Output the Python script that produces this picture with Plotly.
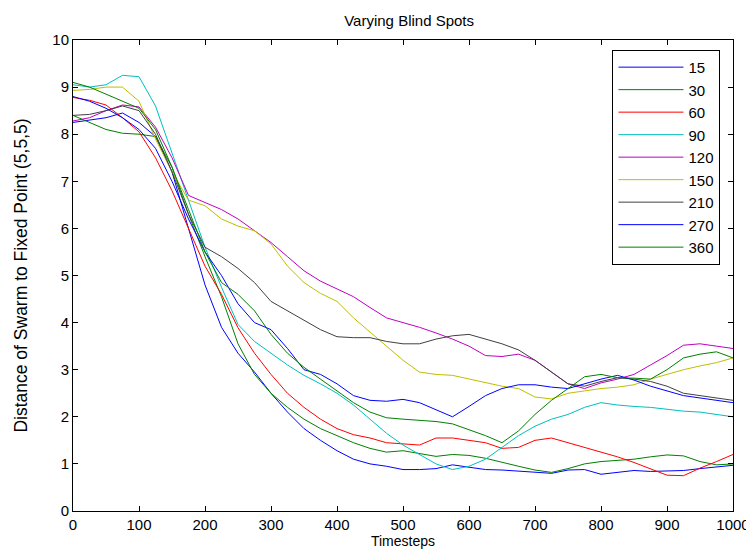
import plotly.graph_objects as go

timesteps = [0, 25, 50, 75, 100, 125, 150, 175, 200, 225, 250, 275, 300, 325, 350, 375, 400,
             425, 450, 475, 500, 525, 550, 575, 600, 625, 650, 675, 700, 725, 750, 775, 800,
             825, 850, 875, 900, 925, 950, 975, 1000]

s15 = [8.25, 8.3, 8.35, 8.45, 8.25, 7.95, 7.2, 6.0, 4.8, 3.9, 3.35, 2.95, 2.5, 2.1, 1.75, 1.5, 1.28,
       1.1, 1.0, 0.95, 0.88, 0.88, 0.9, 0.98, 0.93, 0.88, 0.87, 0.85, 0.82, 0.8, 0.87, 0.88, 0.78,
       0.82, 0.86, 0.84, 0.85, 0.86, 0.9, 0.93, 0.97]
s30 = [8.4, 8.25, 8.1, 8.02, 8.0, 7.95, 7.3, 6.3, 5.4, 4.55, 3.55, 2.9, 2.5, 2.2, 1.95, 1.75, 1.6,
       1.45, 1.33, 1.25, 1.28, 1.22, 1.16, 1.2, 1.18, 1.12, 1.03, 0.95, 0.87, 0.82, 0.9, 1.0, 1.05,
       1.08, 1.1, 1.15, 1.19, 1.17, 1.05, 0.98, 1.0]
s60 = [8.78, 8.72, 8.62, 8.35, 8.05, 7.5, 6.8, 6.0, 5.2, 4.6, 3.89, 3.35, 2.9, 2.5, 2.2, 1.95, 1.75,
       1.62, 1.55, 1.45, 1.42, 1.4, 1.55, 1.55, 1.5, 1.45, 1.33, 1.35, 1.5, 1.55, 1.45, 1.35, 1.25,
       1.15, 1.03, 0.9, 0.76, 0.75, 0.91, 1.05, 1.2]
s90 = [9.05, 9.0, 9.05, 9.25, 9.22, 8.6, 7.6, 6.6, 5.6, 4.75, 3.96, 3.6, 3.35, 3.1, 2.88, 2.7, 2.5,
       2.25, 1.95, 1.65, 1.4, 1.2, 1.0, 0.88, 0.95, 1.1, 1.35, 1.6, 1.8, 1.95, 2.05, 2.2, 2.3,
       2.25, 2.22, 2.2, 2.16, 2.12, 2.1, 2.05, 2.0]
s120 = [8.28, 8.35, 8.5, 8.62, 8.58, 8.15, 7.5, 6.7, 6.55, 6.4, 6.2, 5.95, 5.7, 5.4, 5.1, 4.88, 4.72,
        4.55, 4.32, 4.1, 4.0, 3.9, 3.78, 3.65, 3.5, 3.3, 3.28, 3.33, 3.2, 2.95, 2.7, 2.6, 2.72,
        2.8, 2.9, 3.1, 3.3, 3.52, 3.55, 3.5, 3.45]
s150 = [8.93, 8.95, 9.0, 9.0, 8.7, 7.9, 7.2, 6.6, 6.48, 6.2, 6.05, 5.95, 5.67, 5.2, 4.85, 4.62, 4.45,
        4.1, 3.8, 3.5, 3.2, 2.95, 2.9, 2.88, 2.8, 2.72, 2.65, 2.6, 2.42, 2.38, 2.5, 2.55, 2.6,
        2.63, 2.68, 2.8, 2.9, 3.0, 3.08, 3.15, 3.25]
s210 = [8.4, 8.42, 8.5, 8.6, 8.5, 8.0, 7.2, 6.3, 5.6, 5.4, 5.15, 4.85, 4.45, 4.25, 4.05, 3.85, 3.7,
        3.68, 3.68, 3.6, 3.55, 3.55, 3.65, 3.72, 3.75, 3.65, 3.55, 3.42, 3.2, 2.95, 2.7, 2.65, 2.75,
        2.83, 2.8, 2.75, 2.65, 2.5, 2.45, 2.4, 2.35]
s270 = [8.8, 8.7, 8.55, 8.35, 8.1, 7.7, 7.0, 6.2, 5.5, 5.0, 4.4, 4.0, 3.85, 3.45, 3.0, 2.9, 2.7,
        2.45, 2.35, 2.33, 2.37, 2.3, 2.15, 2.0, 2.22, 2.45, 2.6, 2.68, 2.68, 2.63, 2.6, 2.7, 2.8,
        2.88, 2.78, 2.65, 2.55, 2.45, 2.4, 2.35, 2.3]
s360 = [9.1, 9.0, 8.85, 8.7, 8.55, 8.1, 7.3, 6.4, 5.5, 4.85, 4.6, 4.25, 3.75, 3.35, 3.05, 2.8, 2.55,
        2.3, 2.1, 1.98, 1.95, 1.93, 1.9, 1.85, 1.72, 1.6, 1.45, 1.7, 2.05, 2.35, 2.6, 2.85, 2.9,
        2.83, 2.82, 2.8, 3.0, 3.25, 3.33, 3.38, 3.25]

series_names = ["15", "30", "60", "90", "120", "150", "210", "270", "360"]
series_values = [s15, s30, s60, s90, s120, s150, s210, s270, s360]
series_colors = ["#0000ff", "#008000", "#ff0000", "#00bfbf", "#bf00bf", "#bfbf00", "#404040",
                 "#0000ff", "#008000"]

x_ticks = [0, 100, 200, 300, 400, 500, 600, 700, 800, 900, 1000]
y_ticks = [0, 1, 2, 3, 4, 5, 6, 7, 8, 9, 10]

FONT = "Liberation Sans, Arial, sans-serif"

fig = go.Figure()
for name, vals, col in zip(series_names, series_values, series_colors):
    fig.add_trace(go.Scatter(x=timesteps, y=vals, mode="lines", name=name,
                             line=dict(color=col, width=1)))

axis_common = dict(showline=True, linecolor="black", linewidth=1, mirror="allticks",
                   ticks="inside", ticklen=5, tickcolor="black", showgrid=False,
                   zeroline=False, tickfont=dict(family=FONT, size=15, color="black"))

fig.update_layout(
    width=754, height=549,
    paper_bgcolor="white", plot_bgcolor="white",
    margin=dict(l=65, r=18, t=32, b=46),
    title=dict(text="Varying Blind Spots", x=0.532, xanchor="center", y=0.976, yanchor="middle",
               font=dict(family=FONT, size=15, color="black")),
    xaxis=dict(range=[0, 1000], tickvals=x_ticks, ticktext=[str(v) for v in x_ticks],
               title=dict(text="Timesteps", font=dict(family=FONT, size=14, color="black"),
                          standoff=0),
               **axis_common),
    yaxis=dict(range=[0, 10], tickvals=y_ticks, ticktext=[str(v) for v in y_ticks],
               title=dict(text="Distance of Swarm to Fixed Point (5,5,5)",
                          font=dict(family=FONT, size=17.5, color="black"), standoff=20),
               **axis_common),
    legend=dict(x=0.981, xanchor="right", y=0.979, yanchor="top",
                bgcolor="white", bordercolor="black", borderwidth=1,
                font=dict(family=FONT, size=15, color="black"),
                tracegroupgap=0, itemwidth=65),
    showlegend=True,
)

fig.write_html("out.html")
